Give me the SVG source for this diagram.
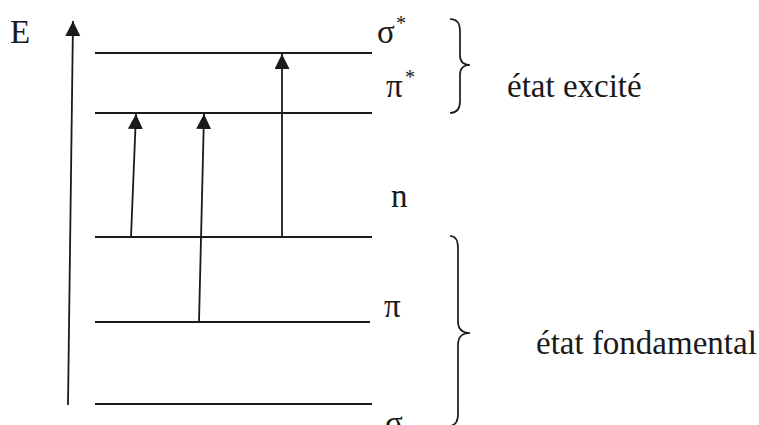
<svg xmlns="http://www.w3.org/2000/svg" width="759" height="425" viewBox="0 0 759 425">
<defs>
<style>
.lvl{stroke:#1a1a1a;stroke-width:2;fill:none}
.arr{stroke:#1a1a1a;stroke-width:1.8;fill:none;marker-end:url(#ah)}
.brace{stroke:#1a1a1a;stroke-width:1.7;fill:none}
text{font-family:"Liberation Serif","Times New Roman",serif;fill:#1a1a1a}
.lab{font-size:33px}
.sup{font-size:20px}
.big{font-size:33px}
</style>
<marker id="ah" markerUnits="userSpaceOnUse" markerWidth="16" markerHeight="16" refX="15" refY="7.5" orient="auto" viewBox="0 0 16 16">
<path d="M0,0 L15,7.5 L0,15 z" fill="#1a1a1a"/>
</marker>
</defs>
<rect width="759" height="425" fill="#ffffff"/>
<g id="axis">
<line class="arr" x1="68" y1="405" x2="73" y2="21"/>
<text class="big" x="10" y="43">E</text>
</g>
<g id="sigma-star">
<line class="lvl" x1="95" y1="53" x2="372" y2="53"/>
<text class="lab" x="377" y="43">σ</text><text class="sup" x="396" y="30">*</text>
</g>
<g id="pi-star">
<line class="lvl" x1="95" y1="113" x2="372" y2="113"/>
<text class="lab" x="386" y="97">π</text><text class="sup" x="405" y="84">*</text>
</g>
<g id="n">
<line class="lvl" x1="95" y1="237" x2="372" y2="237"/>
<text class="lab" x="391" y="207">n</text>
</g>
<g id="pi">
<line class="lvl" x1="95" y1="322" x2="370" y2="322"/>
<text class="lab" x="384" y="317">π</text>
</g>
<g id="sigma">
<line class="lvl" x1="95" y1="404" x2="372" y2="404"/>
<text class="lab" x="385" y="434">σ</text>
</g>
<g id="excited">
<path class="brace" d="M450,19 Q460,19 460,31 L460,55 Q460,65 470,65 Q460,65 460,75 L460,101 Q460,113 450,113"/>
<text class="big" x="507" y="97">état excité</text>
</g>
<g id="ground">
<path class="brace" d="M450,236 Q458,236 458,248 L458,321 Q458,333 470,333 Q458,333 458,345 L458,414 Q458,425 450,426"/>
<text class="big" x="536" y="354">état fondamental</text>
</g>
<g id="connectors">
<line class="arr" x1="131" y1="237" x2="136" y2="114"/>
<line class="arr" x1="199" y1="322" x2="204" y2="114"/>
<line class="arr" x1="282" y1="237" x2="282" y2="54"/>
</g>
</svg>
